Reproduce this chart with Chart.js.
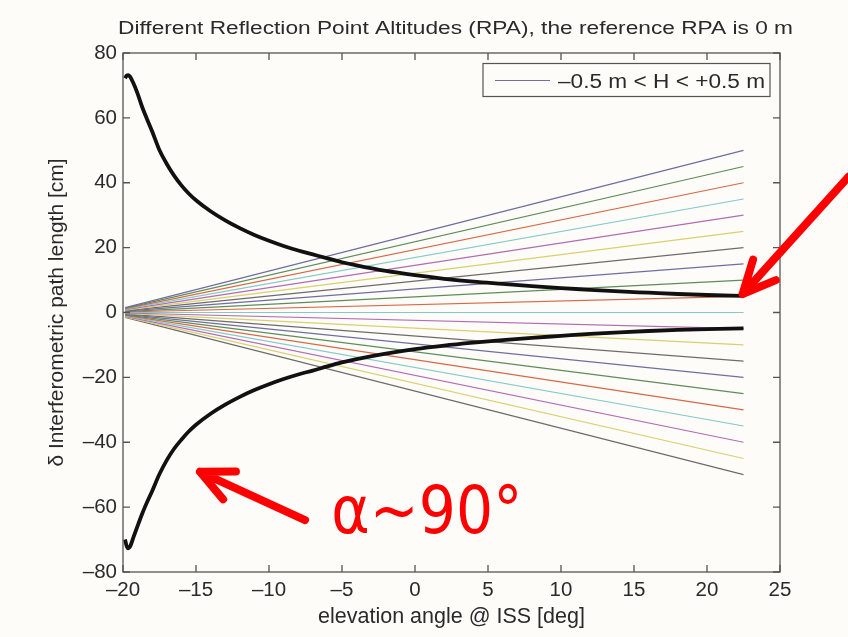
<!DOCTYPE html>
<html>
<head>
<meta charset="utf-8">
<script src="https://cdn.jsdelivr.net/npm/chart.js@4/dist/chart.umd.min.js"></script>
<style>
  html, body { margin: 0; padding: 0; background: #fdfcf9; }
</style>
</head>
<body>
<canvas id="chart" width="848" height="637"></canvas>
<script>
// fan of straight lines, one per reflection point altitude (top line first)
const fanX = [-19.85, 22.5];
const fanStart = [1.5, 1.35, 1.2, 1.05, 0.9, 0.75, 0.6, 0.45, 0.3, 0.15, 0, -0.15, -0.3, -0.45, -0.6, -0.75, -0.9, -1.05, -1.2, -1.35, -1.5];
const fanEnd = [50, 45, 40, 35, 30, 25, 20, 15, 10, 5, 0, -5, -10, -15, -20, -25, -30, -35, -40, -45, -50];
const colorCycle = ['#6e6ea0', '#5f8c5a', '#d66a48', '#84c9c9', '#b36cb3', '#d9d06e', '#6c6c6c'];

// thick black curves (alpha ~ 90 deg)
const upperX = [-19.86, -19.75, -19.63, -19.5, -19.3, -19.0, -18.7, -18.38, -18, -17.5, -17, -16.5, -16, -15.5, -15, -14, -13, -12, -11, -10, -9, -8, -7, -6, -5, -4, -2, 0, 2, 4, 6, 8, 10, 12, 14, 16, 18, 20, 22.5];
const upperY = [72.2, 73.0, 73.2, 72.6, 70.8, 67.5, 63.5, 59.9, 55.8, 50.0, 45.8, 42.2, 39.2, 36.7, 34.6, 31.2, 28.4, 26.0, 23.9, 22.1, 20.5, 19.1, 17.9, 16.7, 15.5, 14.5, 12.8, 11.5, 10.4, 9.5, 8.8, 8.1, 7.5, 7.0, 6.5, 6.1, 5.7, 5.4, 5.15];
const lowerX = [-19.86, -19.75, -19.63, -19.5, -19.3, -19.0, -18.7, -18.5, -18, -17.5, -17, -16.5, -16, -15.5, -15, -14, -13, -12, -11, -10, -9, -8, -7, -6, -5, -4, -2, 0, 2, 4, 6, 8, 10, 12, 14, 16, 18, 20, 22.5];
const lowerY = [-70.0, -72.0, -72.7, -72.0, -69.5, -65.8, -62.2, -60.0, -55.0, -49.8, -45.5, -42.0, -39.2, -36.7, -34.6, -31.2, -28.4, -26.0, -23.9, -22.1, -20.5, -19.1, -17.9, -16.6, -15.4, -14.4, -12.7, -11.3, -10.2, -9.3, -8.5, -7.8, -7.2, -6.6, -6.1, -5.7, -5.35, -5.1, -4.9];

const xTicks = [-20, -15, -10, -5, 0, 5, 10, 15, 20, 25];
const yTicks = [-80, -60, -40, -20, 0, 20, 40, 60, 80];

const titleText = 'Different Reflection Point Altitudes (RPA), the reference RPA is 0 m';
const legendText = '\u20130.5 m < H < +0.5 m';
const noteText = '\u03b1~90\u00b0';

const textFont = '"Liberation Sans", Arial, Helvetica, sans-serif';
const axisColor = '#555';
const textColor = '#2a2a2a';

const datasets = [];
datasets.push({
    data: upperX.map((x, i) => ({ x: x, y: upperY[i] })),
    borderColor: '#111', borderWidth: 3.8, pointRadius: 0,
    cubicInterpolationMode: 'monotone', order: 0
});
datasets.push({
    data: lowerX.map((x, i) => ({ x: x, y: lowerY[i] })),
    borderColor: '#111', borderWidth: 3.8, pointRadius: 0,
    cubicInterpolationMode: 'monotone', order: 0
});
fanEnd.forEach((end, i) => {
    datasets.push({
        data: [{ x: fanX[0], y: fanStart[i] }, { x: fanX[1], y: end }],
        borderColor: colorCycle[i % colorCycle.length],
        borderWidth: 1.2, pointRadius: 0, order: 1
    });
});

// text squeezed/stretched to a given width
function fitText(ctx, text, x, y, width, align) {
    const w = ctx.measureText(text).width;
    const k = width / w;
    ctx.save();
    ctx.translate(x, y);
    ctx.scale(k, 1);
    ctx.textAlign = align;
    ctx.fillText(text, 0, 0);
    ctx.restore();
}

function drawArrow(ctx, x0, y0, x1, y1) {
    const ang = Math.atan2(y0 - y1, x0 - x1);
    const len = 36;
    ctx.beginPath();
    ctx.moveTo(x0, y0);
    ctx.lineTo(x1, y1);
    ctx.moveTo(x1 + len * Math.cos(ang + 0.44), y1 + len * Math.sin(ang + 0.44));
    ctx.lineTo(x1, y1);
    ctx.lineTo(x1 + len * Math.cos(ang - 0.44), y1 + len * Math.sin(ang - 0.44));
    ctx.stroke();
}

// annotations in data units
const arrows = [
    { from: [29.7, 41.9], to: [22.44, 5.7] },
    { from: [-7.53, -64.0], to: [-14.73, -49.1] }
];
const notePos = [-5.73, -68.1];

const decorPlugin = {
    id: 'decor',
    beforeDraw(chart) {
        const ctx = chart.ctx;
        ctx.save();
        ctx.fillStyle = '#fdfcf9';
        ctx.fillRect(0, 0, chart.width, chart.height);
        ctx.restore();
    },
    afterDatasetsDraw(chart) {
        const ctx = chart.ctx;
        const a = chart.chartArea;
        const xs = chart.scales.x, ys = chart.scales.y;
        ctx.save();

        // axes box with inward ticks
        ctx.strokeStyle = axisColor;
        ctx.lineWidth = 1.3;
        ctx.strokeRect(a.left, a.top, a.right - a.left, a.bottom - a.top);
        ctx.beginPath();
        xTicks.forEach(v => {
            const px = xs.getPixelForValue(v);
            ctx.moveTo(px, a.bottom); ctx.lineTo(px, a.bottom - 7);
            ctx.moveTo(px, a.top); ctx.lineTo(px, a.top + 7);
        });
        yTicks.forEach(v => {
            const py = ys.getPixelForValue(v);
            ctx.moveTo(a.left, py); ctx.lineTo(a.left + 7, py);
            ctx.moveTo(a.right, py); ctx.lineTo(a.right - 7, py);
        });
        ctx.stroke();

        // legend
        ctx.fillStyle = '#fdfcf9';
        ctx.fillRect(483, 63.5, 287, 33);
        ctx.strokeStyle = axisColor;
        ctx.lineWidth = 1.2;
        ctx.strokeRect(483, 63.5, 287, 33);
        ctx.strokeStyle = colorCycle[0];
        ctx.lineWidth = 1.2;
        ctx.beginPath();
        ctx.moveTo(495, 80.5); ctx.lineTo(550, 80.5);
        ctx.stroke();
        ctx.fillStyle = textColor;
        ctx.font = '19.5px ' + textFont;
        ctx.textBaseline = 'alphabetic';
        fitText(ctx, legendText, 558, 87.5, 207, 'left');

        // title
        ctx.font = '17.6px ' + textFont;
        fitText(ctx, titleText, 455.5, 33.5, 675, 'center');

        // red arrows and note
        ctx.strokeStyle = '#ff0000';
        ctx.lineWidth = 8;
        ctx.lineCap = 'round';
        ctx.lineJoin = 'round';
        arrows.forEach(ar => {
            drawArrow(ctx,
                xs.getPixelForValue(ar.from[0]), ys.getPixelForValue(ar.from[1]),
                xs.getPixelForValue(ar.to[0]), ys.getPixelForValue(ar.to[1]));
        });
        ctx.fillStyle = '#ff0000';
        ctx.font = '66px "DejaVu Sans", sans-serif';
        fitText(ctx, noteText, xs.getPixelForValue(notePos[0]), ys.getPixelForValue(notePos[1]), 191, 'left');
        ctx.restore();
    }
};

const dash = v => String(v).replace('-', '\u2013');

new Chart(document.getElementById('chart'), {
    type: 'line',
    data: { datasets: datasets },
    options: {
        responsive: false,
        animation: false,
        devicePixelRatio: 1,
        layout: { padding: { top: 53, right: 68, left: 0, bottom: 0 } },
        plugins: { legend: { display: false }, tooltip: { enabled: false } },
        scales: {
            x: {
                type: 'linear', min: -20, max: 25,
                afterBuildTicks: s => { s.ticks = xTicks.map(v => ({ value: v })); },
                afterFit: s => { s.height = 65; },
                grid: { display: false, drawTicks: false },
                border: { display: false },
                ticks: { callback: dash, color: textColor, padding: 6, maxRotation: 0,
                    font: { family: textFont, size: 20.5 } },
                title: { display: true, text: 'elevation angle @ ISS [deg]', color: textColor,
                    font: { family: textFont, size: 21.5 }, padding: { top: 0, bottom: 7 } }
            },
            y: {
                type: 'linear', min: -80, max: 80,
                afterBuildTicks: s => { s.ticks = yTicks.map(v => ({ value: v })); },
                afterFit: s => { s.width = 123; },
                grid: { display: false, drawTicks: false },
                border: { display: false },
                ticks: { callback: dash, color: textColor, padding: 6,
                    font: { family: textFont, size: 20.5 } },
                title: { display: true, text: '\u03b4 Interferometric path length [cm]', color: textColor,
                    font: { family: textFont, size: 21 }, padding: { top: 45, bottom: 0 } }
            }
        }
    },
    plugins: [decorPlugin]
});
</script>
</body>
</html>
